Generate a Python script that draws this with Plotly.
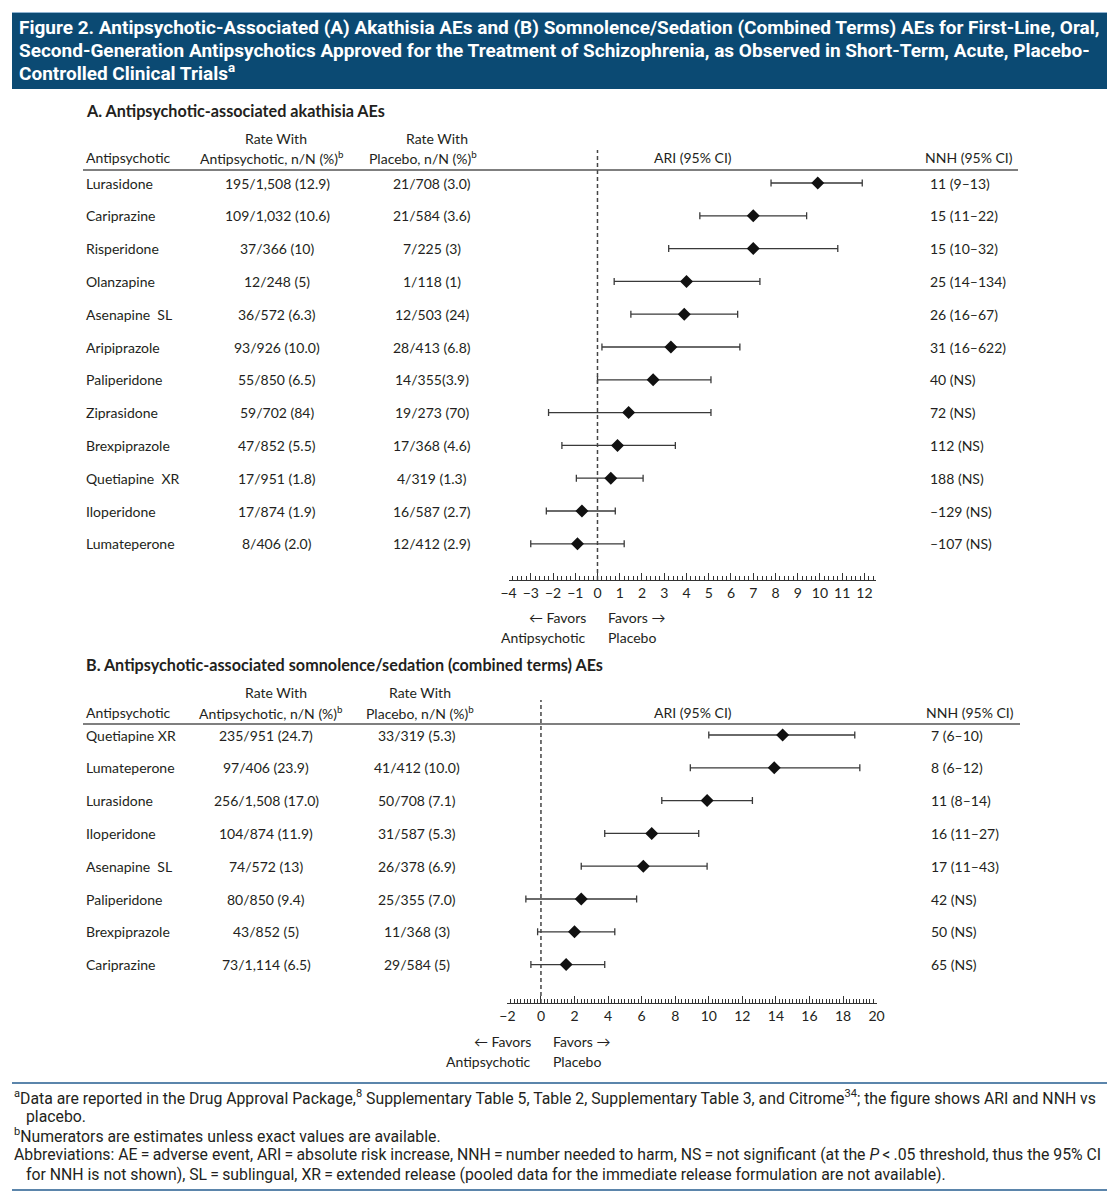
import plotly.graph_objects as go

W, H = 1119, 1200

# ---------------- DATA ----------------
title_lines = [
    "Figure 2. Antipsychotic-Associated (A) Akathisia AEs and (B) Somnolence/Sedation (Combined Terms) AEs for First-Line, Oral,",
    "Second-Generation Antipsychotics Approved for the Treatment of Schizophrenia, as Observed in Short-Term, Acute, Placebo-",
    "Controlled Clinical Trials<sup>a</sup>",
]

a_title = "A. Antipsychotic-associated akathisia AEs"
a_drugs = ["Lurasidone", "Cariprazine", "Risperidone", "Olanzapine", "Asenapine  SL", "Aripiprazole",
           "Paliperidone", "Ziprasidone", "Brexpiprazole", "Quetiapine  XR", "Iloperidone", "Lumateperone"]
a_rate_drug = ["195/1,508 (12.9)", "109/1,032 (10.6)", "37/366 (10)", "12/248 (5)", "36/572 (6.3)",
               "93/926 (10.0)", "55/850 (6.5)", "59/702 (84)", "47/852 (5.5)", "17/951 (1.8)",
               "17/874 (1.9)", "8/406 (2.0)"]
a_rate_plac = ["21/708 (3.0)", "21/584 (3.6)", "7/225 (3)", "1/118 (1)", "12/503 (24)", "28/413 (6.8)",
               "14/355(3.9)", "19/273 (70)", "17/368 (4.6)", "4/319 (1.3)", "16/587 (2.7)", "12/412 (2.9)"]
a_ari = [9.9, 7.0, 7.0, 4.0, 3.9, 3.3, 2.5, 1.4, 0.9, 0.6, -0.7, -0.9]
a_lo = [7.8, 4.6, 3.2, 0.75, 1.5, 0.2, 0.0, -2.2, -1.6, -0.95, -2.3, -3.0]
a_hi = [11.9, 9.4, 10.8, 7.3, 6.3, 6.4, 5.1, 5.1, 3.5, 2.05, 0.8, 1.2]
a_nnh = ["11 (9–13)", "15 (11–22)", "15 (10–32)", "25 (14–134)", "26 (16–67)", "31 (16–622)",
         "40 (NS)", "72 (NS)", "112 (NS)", "188 (NS)", "–129 (NS)", "–107 (NS)"]
a_ticks = list(range(-4, 13))

b_title = "B. Antipsychotic-associated somnolence/sedation (combined terms) AEs"
b_drugs = ["Quetiapine XR", "Lumateperone", "Lurasidone", "Iloperidone", "Asenapine  SL",
           "Paliperidone", "Brexpiprazole", "Cariprazine"]
b_rate_drug = ["235/951 (24.7)", "97/406 (23.9)", "256/1,508 (17.0)", "104/874 (11.9)", "74/572 (13)",
               "80/850 (9.4)", "43/852 (5)", "73/1,114 (6.5)"]
b_rate_plac = ["33/319 (5.3)", "41/412 (10.0)", "50/708 (7.1)", "31/587 (5.3)", "26/378 (6.9)",
               "25/355 (7.0)", "11/368 (3)", "29/584 (5)"]
b_ari = [14.4, 13.9, 9.9, 6.6, 6.1, 2.4, 2.0, 1.5]
b_lo = [10.0, 8.9, 7.2, 3.8, 2.4, -0.9, -0.2, -0.6]
b_hi = [18.7, 19.0, 12.6, 9.4, 9.9, 5.7, 4.4, 3.8]
b_nnh = ["7 (6–10)", "8 (6–12)", "11 (8–14)", "16 (11–27)", "17 (11–43)", "42 (NS)", "50 (NS)", "65 (NS)"]
b_ticks = list(range(-2, 21, 2))

hdr_drug = "Antipsychotic"
hdr_rate1 = ["Rate With", "Antipsychotic, n/N (%)<sup>b</sup>"]
hdr_rate2 = ["Rate With", "Placebo, n/N (%)<sup>b</sup>"]
hdr_ari = "ARI (95% CI)"
hdr_nnh = "NNH (95% CI)"
favors_left = ["← Favors", "Antipsychotic"]
favors_right = ["Favors →", "Placebo"]

T = "\u2009=\u2009"
footnotes = [
    ("<sup>a</sup>Data are reported in the Drug Approval Package,<sup>8</sup> Supplementary Table 5, Table 2, "
     "Supplementary Table 3, and Citrome<sup>34</sup>; the figure shows ARI and NNH vs", 0),
    ("placebo.", 1),
    ("<sup>b</sup>Numerators are estimates unless exact values are available.", 0),
    ("Abbreviations: AE" + T + "adverse event, ARI" + T + "absolute risk increase, NNH" + T +
     "number needed to harm, NS" + T + "not significant (at the <i>P</i>\u2009<\u2009.05 threshold, thus the 95% CI", 0),
    ("for NNH is not shown), SL" + T + "sublingual, XR" + T +
     "extended release (pooled data for the immediate release formulation are not available).", 1),
]

# ---------------- STYLE / LAYOUT HELPERS ----------------
BODY = "Lato, Roboto, sans-serif"
COND = "Roboto, Lato, sans-serif"
TXT = "#231f20"
NAVY = "#0b4a73"
RULE = "#5b85ab"


def px(x):
    return x / W


def py(y):
    return 1 - y / H


ann = []
shapes = []


def text(x, y, s, size=14, anchor="left", font=BODY, color=TXT, xref="paper", yref="paper"):
    ann.append(dict(x=x, y=y, xref=xref, yref=yref, text=s, showarrow=False,
                    xanchor=anchor, yanchor="middle", align=anchor,
                    font=dict(family=font, size=size, color=color)))


# title box
shapes.append(dict(type="rect", xref="paper", yref="paper", x0=px(12), x1=px(1107), y0=py(89), y1=py(13),
                   fillcolor=NAVY, line=dict(width=0), layer="below"))
shapes.append(dict(type="line", xref="paper", yref="paper", x0=px(12), x1=px(1107), y0=py(12.5), y1=py(12.5),
                   line=dict(color="#8fb3d1", width=1)))
for i, ln in enumerate(title_lines):
    text(px(17), py(28 + 22.3 * i), "<b>" + ln + "</b>", size=19, font=COND, color="white")

fig = go.Figure()


def panel(idx, title, drugs, rd, rp, ari, lo, hi, nnh, ticks, rng, xdom, ydom_px, row0, step,
          title_y, hdr_y, line_y, line_x1, cols, favors_y, fav_x):
    xa = "x" if idx == 1 else "x2"
    ya = "y" if idx == 1 else "y2"
    top_px, bot_px = ydom_px
    yr = [(bot_px - row0) / step, (top_px - row0) / step]
    fig.add_trace(go.Scatter(
        x=ari, y=list(range(len(ari))), xaxis=xa, yaxis=ya, mode="markers",
        marker=dict(symbol="diamond", size=10, color="#111111"),
        error_x=dict(type="data", symmetric=False,
                     array=[h - a for h, a in zip(hi, ari)],
                     arrayminus=[a - l for a, l in zip(ari, lo)],
                     color="#3a3a3a", thickness=1.3, width=3.5),
        hoverinfo="skip", showlegend=False))
    axkey = "xaxis" if idx == 1 else "xaxis2"
    aykey = "yaxis" if idx == 1 else "yaxis2"
    fig.layout[axkey] = dict(domain=[px(xdom[0]), px(xdom[1])], range=rng, anchor=ya,
                             automargin=False,
                             showgrid=False, zeroline=False, showline=True, linecolor="#333", linewidth=1,
                             ticks="inside", ticklen=7, tickwidth=1, tickcolor="#333",
                             tickvals=ticks, ticktext=[("−" + str(-t)) if t < 0 else str(t) for t in ticks],
                             tickfont=dict(family=BODY, size=14, color=TXT),
                             minor=dict(dtick=0.2, tick0=0, ticks="inside", ticklen=4, tickwidth=1,
                                        tickcolor="#333", showgrid=False),
                             fixedrange=True)
    fig.layout[aykey] = dict(domain=[py(bot_px), py(top_px)], range=yr, visible=False, fixedrange=True,
                             automargin=False)
    # dashed zero line
    shapes.append(dict(type="line", xref=xa, yref=ya + " domain", x0=0, x1=0, y0=0, y1=1,
                       line=dict(color="#444", width=1.5, dash="4px,3px")))
    # header rule
    shapes.append(dict(type="line", xref="paper", yref="paper", x0=px(83), x1=px(line_x1),
                       y0=py(line_y), y1=py(line_y), line=dict(color="#555", width=1.3)))
    # titles & headers
    text(px(84), py(title_y), "<b>" + title + "</b>", size=16.2, font=BODY)
    c_name, c_rd, c_rp, c_ari, c_nnh, h_rd, h_rp = cols
    text(px(84), py(hdr_y), hdr_drug, size=14)
    text(px(h_rd[0]), py(hdr_y - 20), hdr_rate1[0], size=14, anchor="center")
    text(px(h_rd[1]), py(hdr_y), hdr_rate1[1], size=14, anchor="center")
    text(px(h_rp[0]), py(hdr_y - 20), hdr_rate2[0], size=14, anchor="center")
    text(px(h_rp[1]), py(hdr_y), hdr_rate2[1], size=14, anchor="center")
    text(px(c_ari), py(hdr_y), hdr_ari, size=14, anchor="center")
    text(px(c_nnh - 5), py(hdr_y), hdr_nnh, size=14)
    for i in range(len(drugs)):
        text(px(c_name), i, drugs[i], yref=ya)
        text(px(c_rd), i, rd[i], anchor="center", yref=ya)
        text(px(c_rp), i, rp[i], anchor="center", yref=ya)
        text(px(c_nnh), i, nnh[i], yref=ya)
    # favors
    text(px(fav_x[0]), py(favors_y), favors_left[0], anchor="right")
    text(px(fav_x[0]), py(favors_y + 20), favors_left[1], anchor="right")
    text(px(fav_x[1]), py(favors_y), favors_right[0])
    text(px(fav_x[1]), py(favors_y + 20), favors_right[1])


panel(1, a_title, a_drugs, a_rate_drug, a_rate_plac, a_ari, a_lo, a_hi, a_nnh, a_ticks, [-4, 12.5],
      (508.5, 875.6), (150, 580), 183, 32.8, 110, 158, 170, 1018,
      (84, 277, 432, 693, 928, (276, 272), (437, 423)), 617, (588, 606))
panel(2, b_title, b_drugs, b_rate_drug, b_rate_plac, b_ari, b_lo, b_hi, b_nnh, b_ticks, [-2, 20],
      (507.4, 876.6), (700, 1003), 735, 32.8, 664, 712, 724, 1020,
      (84, 266, 417, 693, 929, (276, 271), (420, 420)), 1041, (533, 551))

# footnote rules
for yy in (1083, 1190):
    shapes.append(dict(type="line", xref="paper", yref="paper", x0=px(12), x1=px(1107), y0=py(yy), y1=py(yy),
                   line=dict(color=RULE, width=2)))
for i, (s, indent) in enumerate(footnotes):
    text(px(12 + 12 * indent), py(1097 + 19.3 * i), s, size=15.8, font=COND)

fig.update_layout(template="none", width=W, height=H, autosize=False,
                  margin=dict(l=0, r=0, t=0, b=0, pad=0),
                  paper_bgcolor="white", plot_bgcolor="white", showlegend=False,
                  annotations=ann, shapes=shapes)
fig.write_html("out.html", config={"displayModeBar": False},
               post_script="document.body.style.margin='0';document.body.style.overflow='hidden';")
